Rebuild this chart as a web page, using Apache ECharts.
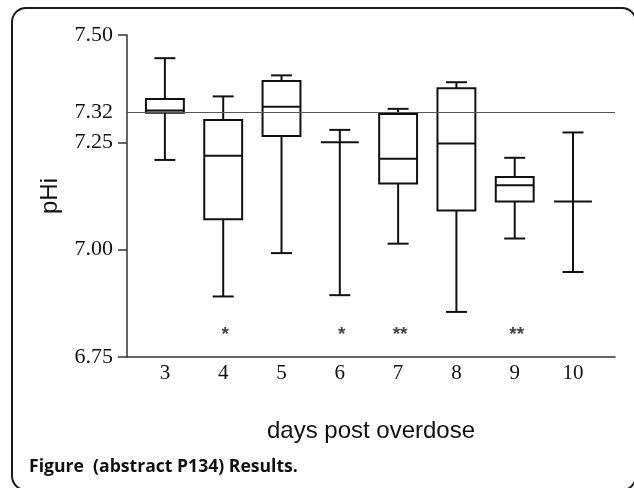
<!DOCTYPE html>
<html>
<head>
<meta charset="utf-8">
<title>pHi by day</title>
<script src="https://cdn.jsdelivr.net/npm/echarts@6/dist/echarts.min.js"></script>
<style>
  html, body { margin: 0; padding: 0; background: #ffffff; }
  #chart { width: 634px; height: 488px; }
</style>
</head>
<body>
<div id="chart"></div>
<script>
// Days after overdose and the box statistics of pHi for each day
const days        = [3, 4, 5, 6, 7, 8, 9, 10];
const whiskerLow  = [7.209, 6.891, 6.992, 6.894, 7.014, 6.855, 7.026, 6.948];
const quartile1   = [7.319, 7.071, 7.265, 7.250, 7.154, 7.091, 7.112, 7.112];
const medians     = [7.324, 7.219, 7.333, 7.250, 7.212, 7.247, 7.150, 7.112];
const quartile3   = [7.351, 7.302, 7.393, 7.250, 7.316, 7.376, 7.169, 7.112];
const whiskerHigh = [7.446, 7.357, 7.406, 7.279, 7.328, 7.390, 7.214, 7.273];

// Significance markers under some of the days
const starDays   = [4, 6, 7, 9];
const starLabels = ['*', '*', '**', '**'];
const starLevel  = 6.80;

// Normal pHi reference value and the y tick labels
const referencePHi = 7.32;
const yLabelValues = [6.75, 7.00, 7.25, 7.32, 7.50];
const yTickValues  = [6.75, 7.00, 7.25, 7.50];

const boxData = days.map((d, i) => [d, whiskerLow[i], quartile1[i], medians[i], quartile3[i], whiskerHigh[i]]);
const starData = starDays.map((d, i) => ({ value: [d, starLevel], label: { formatter: starLabels[i] } }));

const ink = '#111111';

function renderBox(params, api) {
  const x = api.value(0);
  const pMin = api.coord([x, api.value(1)]);
  const pQ1  = api.coord([x, api.value(2)]);
  const pMed = api.coord([x, api.value(3)]);
  const pQ3  = api.coord([x, api.value(4)]);
  const pMax = api.coord([x, api.value(5)]);
  const unit = api.size([1, 0])[0];
  const half = unit * 0.325;
  const capHalf = unit * 0.18;
  const cx = pMed[0];
  const style = { stroke: ink, lineWidth: 2, fill: null };
  const children = [
    { type: 'line', shape: { x1: cx, y1: pMax[1], x2: cx, y2: pQ3[1] }, style },
    { type: 'line', shape: { x1: cx, y1: pQ1[1], x2: cx, y2: pMin[1] }, style },
    { type: 'line', shape: { x1: cx - capHalf, y1: pMax[1], x2: cx + capHalf, y2: pMax[1] }, style },
    { type: 'line', shape: { x1: cx - capHalf, y1: pMin[1], x2: cx + capHalf, y2: pMin[1] }, style },
    { type: 'line', shape: { x1: cx - half, y1: pMed[1], x2: cx + half, y2: pMed[1] }, style }
  ];
  if (pQ1[1] - pQ3[1] > 0.5) {
    children.push({
      type: 'rect',
      shape: { x: cx - half, y: pQ3[1], width: half * 2, height: pQ1[1] - pQ3[1] },
      style: { stroke: ink, lineWidth: 2, fill: 'rgba(255,255,255,0)' }
    });
  }
  return { type: 'group', children };
}

const chart = echarts.init(document.getElementById('chart'), null, { renderer: 'canvas' });

chart.setOption({
  backgroundColor: '#ffffff',
  animation: false,
  grid: { left: 127, right: 19, top: 35, bottom: 131 },
  xAxis: {
    type: 'value',
    min: 2.35,
    max: 10.72,
    name: 'days post overdose',
    nameLocation: 'middle',
    nameGap: 62,
    nameTextStyle: { fontFamily: 'Liberation Sans', fontSize: 24, color: '#111' },
    axisLine: { show: true, onZero: false, lineStyle: { color: '#333', width: 1.5 } },
    axisTick: { show: false },
    splitLine: { show: false },
    axisLabel: {
      customValues: days,
      margin: 6,
      fontFamily: 'Liberation Serif',
      fontSize: 21,
      color: '#111'
    }
  },
  yAxis: {
    type: 'value',
    min: 6.75,
    max: 7.5,
    name: 'pHi',
    nameLocation: 'middle',
    nameGap: 65,
    nameTextStyle: { fontFamily: 'Liberation Sans', fontSize: 24, color: '#111' },
    axisLine: { show: true, lineStyle: { color: '#333', width: 1.5 } },
    axisTick: { show: true, customValues: yTickValues, length: 9, lineStyle: { color: '#333', width: 1.5 } },
    splitLine: { show: false },
    axisLabel: {
      customValues: yLabelValues,
      margin: 14,
      fontFamily: 'Liberation Serif',
      fontSize: 22,
      color: '#111',
      formatter: v => v.toFixed(2)
    }
  },
  series: [
    {
      type: 'custom',
      renderItem: renderBox,
      data: boxData,
      encode: { x: 0, y: [1, 2, 3, 4, 5] },
      z: 3
    },
    {
      type: 'scatter',
      data: starData,
      symbolSize: 0,
      itemStyle: { color: 'rgba(0,0,0,0)' },
      label: {
        show: true,
        position: 'inside',
        offset: [2, -1],
        fontFamily: 'Liberation Sans',
        fontWeight: 'bold',
        fontSize: 19,
        color: '#111'
      },
      markLine: {
        silent: true,
        symbol: 'none',
        label: { show: false },
        lineStyle: { type: 'solid', color: '#555', width: 1.2 },
        data: [{ yAxis: referencePHi }]
      },
      z: 2
    }
  ],
  graphic: [
    {
      type: 'rect',
      shape: { x: 12, y: 8, width: 624, height: 482, r: 14 },
      style: { stroke: '#1a1a1a', lineWidth: 2, fill: null },
      silent: true
    },
    {
      type: 'text',
      left: 29,
      top: 458,
      style: {
        text: 'Figure  (abstract P134) Results.',
        fontFamily: 'Open Sans',
        fontWeight: 'bold',
        fontSize: 17.6,
        fill: '#111'
      }
    }
  ]
});
</script>
</body>
</html>
